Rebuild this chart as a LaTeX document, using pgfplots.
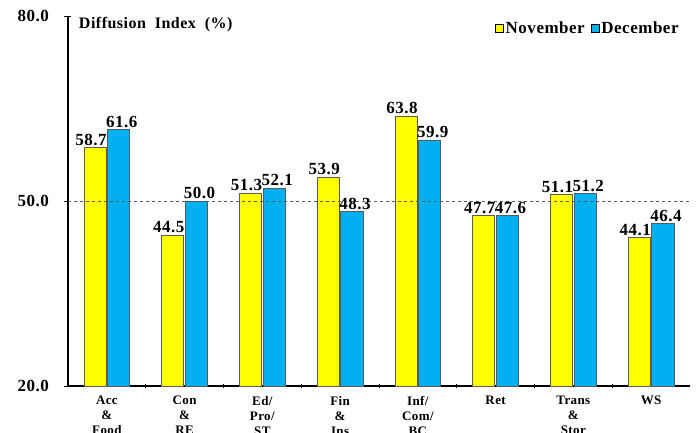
\documentclass[border=0pt]{standalone}
\usepackage{pgfplots}
\pgfplotsset{compat=1.18}
\usepackage{fontspec}
\setmainfont{Liberation Serif}[LetterSpace=3]
\definecolor{yel}{RGB}{255,255,0}
\definecolor{blu}{RGB}{0,176,240}
\definecolor{edge}{RGB}{90,90,90}
\begin{document}
\begin{tikzpicture}[x=1pt,y=1pt]
\useasboundingbox (-68,-46) rectangle (628,386);
\begin{axis}[
  at={(0,0)}, anchor=south west,
  scale only axis, width=622pt, height=370pt,
  xmin=-0.5, xmax=7.5, ymin=20, ymax=80,
  ybar=1.5pt, bar width=0.285,
  axis x line*=bottom, axis y line*=left,
  axis line style={-, line width=1.6pt, black},
  ytick={20,50,80},
  yticklabel style={font=\fontsize{17}{17}\selectfont\bfseries, /pgf/number format/fixed, /pgf/number format/precision=1, /pgf/number format/fixed zerofill},
  /pgf/number format/assume math mode=true,
  ytick style={line width=1pt, black},
  y tick label style={xshift=-12pt},
  tick align=center, major tick length=7pt,
  xtick={0,...,7},
  xticklabels={{Acc\\\&\\Food},{Con\\\&\\RE},{Ed/\\Pro/\\ST},{Fin\\\&\\Ins},{Inf/\\Com/\\BC},{Ret},{Trans\\\&\\Stor},{WS}},
  x tick label style={font=\fontsize{13}{15}\selectfont\bfseries, align=center, anchor=north, yshift=-3pt},
  x tick style={draw=none},
  minor xtick={0.5,1.5,2.5,3.5,4.5,5.5,6.5},
  minor x tick style={draw=black, line width=1pt},
  minor tick length=4pt,
  nodes near coords,
  nodes near coords style={font=\fontsize{17}{17}\selectfont\bfseries, black, /pgf/number format/fixed, /pgf/number format/precision=1, /pgf/number format/fixed zerofill, inner sep=1.5pt},
  legend style={at={(0.99,0.995)}, anchor=north east, draw=none, fill=none, legend columns=2, font=\fontsize{17}{17}\selectfont\bfseries, /tikz/every even column/.append style={column sep=4pt}},
  legend image code/.code={\draw[#1, draw=black, line width=0.6pt] (0pt,-4pt) rectangle (8pt,4pt);},
  clip=false,
]
\addplot[fill=yel, draw=edge, line width=0.8pt, nodes near coords style={xshift=-4pt}] coordinates {(0,58.7) (1,44.5) (2,51.3) (3,53.9) (4,63.8) (5,47.7) (6,51.1) (7,44.1)};
\addplot[fill=blu, draw=edge, line width=0.8pt, nodes near coords style={xshift=3pt}] coordinates {(0,61.6) (1,50.0) (2,52.1) (3,48.3) (4,59.9) (5,47.6) (6,51.2) (7,46.4)};
\legend{November, December}
\draw[dashed, gray!70!black, line width=0.6pt] (axis cs:-0.5,50) -- (axis cs:7.5,50);
\node[anchor=west, font=\fontsize{16}{16}\selectfont\bfseries] at (axis description cs:0.012,0.978) {Diffusion\ \ Index\ \ (\%)};
\end{axis}
\end{tikzpicture}
\end{document}
